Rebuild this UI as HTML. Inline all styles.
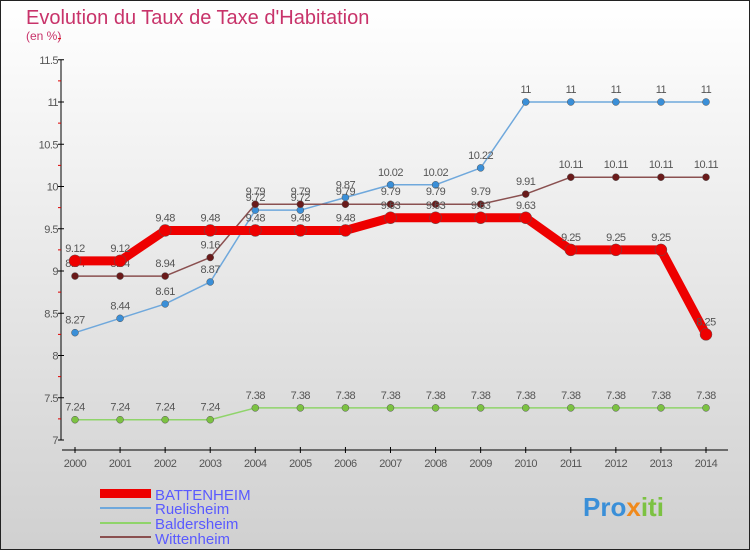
<!DOCTYPE html>
<html><head><meta charset="utf-8"><style>
body{margin:0;width:750px;height:550px;overflow:hidden}
svg{display:block}
text{font-family:"Liberation Sans",sans-serif}
</style></head><body>
<svg id="c" width="750" height="550">
<defs><linearGradient id="bg" x1="0" y1="0" x2="0" y2="1"><stop offset="0" stop-color="#ffffff"/><stop offset="1" stop-color="#d0d0d0"/></linearGradient></defs>
<rect x="0.5" y="0.5" width="749" height="549" fill="url(#bg)" stroke="#222"/>
<text x="26" y="24" font-size="20" fill="#c8336a">Evolution du Taux de Taxe d'Habitation</text>
<text x="26" y="40" font-size="12" fill="#c8336a">(en %)</text>
<g id="axes"></g><g id="series"></g>
<g>
<rect x="100" y="489" width="51" height="9" fill="#e00"/>
<text x="155" y="500" font-size="15" fill="#5a5aff">BATTENHEIM</text>
<line x1="100" y1="508" x2="151" y2="508" stroke="#6fa8dc" stroke-width="2"/>
<text x="155" y="514" font-size="15" fill="#5a5aff">Ruelisheim</text>
<line x1="100" y1="523" x2="151" y2="523" stroke="#8fd46a" stroke-width="2"/>
<text x="155" y="529" font-size="15" fill="#5a5aff">Baldersheim</text>
<line x1="100" y1="537" x2="151" y2="537" stroke="#8a5050" stroke-width="2"/>
<text x="155" y="544" font-size="15" fill="#5a5aff">Wittenheim</text>
</g>
<g><text x="583" y="516" font-size="26" font-weight="bold"><tspan fill="#3a8fd8">Pro</tspan><tspan fill="#f08a1c">x</tspan><tspan fill="#7cc242">iti</tspan></text></g>
</svg>
<script>
const years=[2000,2001,2002,2003,2004,2005,2006,2007,2008,2009,2010,2011,2012,2013,2014];
const yTicks=[7,7.5,8,8.5,9,9.5,10,10.5,11,11.5];
const battenheim=[9.12,9.12,9.48,9.48,9.48,9.48,9.48,9.63,9.63,9.63,9.63,9.25,9.25,9.25,8.25];
const ruelisheim=[8.27,8.44,8.61,8.87,9.72,9.72,9.87,10.02,10.02,10.22,11,11,11,11,11];
const baldersheim=[7.24,7.24,7.24,7.24,7.38,7.38,7.38,7.38,7.38,7.38,7.38,7.38,7.38,7.38,7.38];
const wittenheim=[8.94,8.94,8.94,9.16,9.79,9.79,9.79,9.79,9.79,9.79,9.91,10.11,10.11,10.11,10.11];
const NS="http://www.w3.org/2000/svg";
function X(i){return 75+i*(706-75)/(years.length-1);}
function Y(v){return 440-(v-7)*84.5;}
function mk(t,a,p){const e=document.createElementNS(NS,t);for(const k in a)e.setAttribute(k,a[k]);p.appendChild(e);return e;}
const ax=document.getElementById('axes');
let l=mk('line',{x1:61,y1:Y(11.5),x2:61,y2:440,stroke:'#000'},ax);


yTicks.forEach(v=>{
 mk('line',{x1:58,y1:Y(v),x2:64,y2:Y(v),stroke:'#000'},ax);
 mk('line',{x1:58,y1:Y(v+0.25),x2:61,y2:Y(v+0.25),stroke:'#d00'},ax);
 const t=mk('text',{x:58,y:Y(v)+4,'font-size':11,fill:'#555','text-anchor':'end','letter-spacing':'-0.5'},ax);
 t.textContent=v;
 
 
});
l=mk('line',{x1:62,y1:450,x2:728,y2:450,stroke:'#000'},ax);


years.forEach((y,i)=>{
 mk('line',{x1:X(i),y1:447,x2:X(i),y2:453,stroke:'#000'},ax);
 const t=mk('text',{x:X(i),y:467,'font-size':11,fill:'#555','text-anchor':'middle','letter-spacing':'-0.5'},ax);
 t.textContent=y;
 
 
});
const sg=document.getElementById('series');
function draw(arr,name,col,w,r,dot){
 const g=mk('g',{},sg);
 
 
 const p=mk('polyline',{points:arr.map((v,i)=>X(i)+','+Y(v)).join(' '),fill:'none',stroke:col,'stroke-width':w,'stroke-linejoin':'round'},g);
 
 
 arr.forEach((v,i)=>{
  const c=mk('circle',{cx:X(i),cy:Y(v),r:r,fill:dot,stroke:'#555','stroke-width':0.5},g);
  
  
  const t=mk('text',{x:X(i),y:Y(v)-9,'font-size':11,fill:'#555','text-anchor':'middle','letter-spacing':'-0.5'},g);
  t.textContent=v;
  
  
 });
}
draw(baldersheim,'baldersheim','#8fd46a',1.5,3.5,'#7cc242');
draw(ruelisheim,'ruelisheim','#6fa8dc',1.5,3.5,'#3a8fd8');
draw(wittenheim,'wittenheim','#8a5050',1.5,3.5,'#6a1a1a');
draw(battenheim,'battenheim','#ee0000',9,6,'#ee0000');
</script>
</body></html>
